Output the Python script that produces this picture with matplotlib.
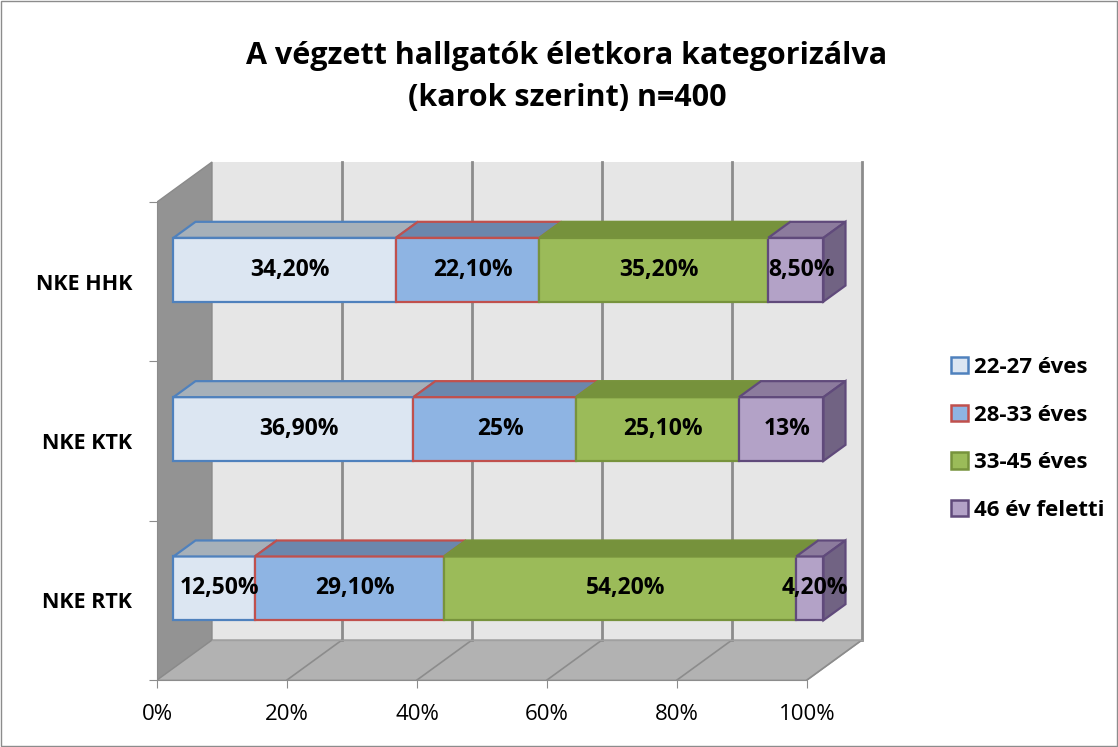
import matplotlib.pyplot as plt
import numpy as np
from matplotlib.patches import Polygon, Patch, Rectangle

plt.rcParams["font.family"] = ["Open Sans", "DejaVu Sans"]

title = "A végzett hallgatók életkora kategorizálva\n(karok szerint) n=400"
faculties = ["NKE RTK", "NKE KTK", "NKE HHK"]
age_groups = ["22-27 éves", "28-33 éves", "33-45 éves", "46 év feletti"]
values = np.array([
    [12.5, 29.1, 54.2, 4.2],
    [36.9, 25.0, 25.1, 13.0],
    [34.2, 22.1, 35.2, 8.5],
])
value_labels = [
    ["12,50%", "29,10%", "54,20%", "4,20%"],
    ["36,90%", "25%", "25,10%", "13%"],
    ["34,20%", "22,10%", "35,20%", "8,50%"],
]
x_ticks = [0, 20, 40, 60, 80, 100]

face_colors = ["#dce6f2", "#8eb4e3", "#9bbb59", "#b3a2c7"]
edge_colors = ["#4f81bd", "#c0504d", "#77933c", "#604a7b"]
top_colors = ["#a6b0b9", "#6b87ad", "#76923c", "#8c7b9d"]
side_colors = ["#a6b0b9", "#6b87ad", "#76923c", "#716383"]

# pseudo-3D geometry (data units)
DX, DY = 8.46, 0.251          # full depth offset of the walls
F0, F1 = 0.30, 0.70           # bar front/back depth fraction
BAR_H = 0.4

fig = plt.figure(figsize=(11.18, 7.47), dpi=100)
fig.patches.append(Rectangle((0.0008, 0.0008), 0.9984, 0.9984, transform=fig.transFigure,
                             fill=False, edgecolor="#8c8c8c", linewidth=1.0))
ax = fig.add_axes([157 / 1118, 1 - 680 / 747, 713 / 1118, 530 / 747])
ax.set_xlim(0, 713 / 6.5)
ax.set_ylim(-0.5, -0.5 + 530 / 159.33)

n = len(faculties)
y_lo, y_hi = -0.5, n - 0.5

# back wall
ax.add_patch(Polygon([(DX, y_lo + DY), (100 + DX, y_lo + DY), (100 + DX, y_hi + DY), (DX, y_hi + DY)],
                     closed=True, facecolor="#e6e6e6", edgecolor="none", zorder=1))
# floor
ax.add_patch(Polygon([(0, y_lo), (100, y_lo), (100 + DX, y_lo + DY), (DX, y_lo + DY)],
                     closed=True, facecolor="#b2b2b2", edgecolor="#a0a0a0", linewidth=1, zorder=1))
# side wall
ax.add_patch(Polygon([(0, y_lo), (DX, y_lo + DY), (DX, y_hi + DY), (0, y_hi)],
                     closed=True, facecolor="#939393", edgecolor="#8a8a8a", linewidth=1, zorder=1))
for xt in x_ticks[1:]:
    ax.plot([xt + DX, xt + DX], [y_lo + DY, y_hi + DY], color="#8c8c8c", linewidth=2, zorder=2)
    ax.plot([xt, xt + DX], [y_lo, y_lo + DY], color="#8c8c8c", linewidth=1.2, zorder=2)
ax.plot([DX, 100 + DX], [y_lo + DY, y_lo + DY], color="#a0a0a0", linewidth=1, zorder=2)

ddx, ddy = (F1 - F0) * DX, (F1 - F0) * DY
for i in range(n):
    yc = i + F0 * DY
    lefts = np.concatenate([[0], np.cumsum(values[i])[:-1]]) + F0 * DX
    ax.barh([yc] * len(age_groups), values[i], left=lefts, height=BAR_H,
            color=face_colors, edgecolor=edge_colors, linewidth=1.6, zorder=3)
    top = yc + BAR_H / 2
    bot = yc - BAR_H / 2
    for j, (l, w) in enumerate(zip(lefts, values[i])):
        ax.add_patch(Polygon([(l, top), (l + w, top), (l + w + ddx, top + ddy), (l + ddx, top + ddy)],
                             closed=True, facecolor=top_colors[j], edgecolor=edge_colors[j],
                             linewidth=1.6, zorder=3))
        ax.text(l + w / 2 + 0.25 * ddx, yc, value_labels[i][j], ha="center", va="center",
                fontsize=16.5, fontweight="bold", color="black", zorder=5)
    r = lefts[-1] + values[i][-1]
    ax.add_patch(Polygon([(r, bot), (r, top), (r + ddx, top + ddy), (r + ddx, bot + ddy)],
                         closed=True, facecolor=side_colors[-1], edgecolor=edge_colors[-1],
                         linewidth=1.6, zorder=3))

# axes styling
for s in ["top", "right"]:
    ax.spines[s].set_visible(False)
ax.spines["left"].set_bounds(y_lo, y_hi)
ax.spines["bottom"].set_bounds(0, 100)
ax.spines["left"].set_color("#8c8c8c")
ax.spines["bottom"].set_color("#8c8c8c")
ax.spines["left"].set_zorder(2.5)
ax.spines["bottom"].set_zorder(2.5)
ax.set_xticks(x_ticks)
ax.set_xticklabels([f"{t}%" for t in x_ticks], fontsize=16)
ax.set_yticks(np.arange(-0.5, n, 1.0))
ax.set_yticklabels([])
ax.set_yticks(np.arange(n), minor=True)
ax.set_yticklabels(faculties, minor=True, fontsize=15.5, fontweight="bold")
ax.tick_params(axis="y", which="minor", length=0, pad=18)
ax.tick_params(axis="both", which="major", length=6, color="#8c8c8c")
ax.tick_params(axis="x", pad=11)
ax.patch.set_visible(False)

fig.text(0.507, 1 - 77 / 747, title, ha="center", va="center", fontsize=22,
         fontweight="bold", linespacing=1.5)

handles = [Patch(facecolor=fc, edgecolor=ec, linewidth=1.8) for fc, ec in zip(face_colors, edge_colors)]
fig.legend(handles, age_groups, loc="center left", bbox_to_anchor=(931 / 1118, 1 - 439 / 747),
           frameon=False, prop={"size": 16, "weight": "bold"}, handlelength=0.75, handleheight=0.75,
           handletextpad=0.3, labelspacing=1.2)

fig.savefig("out.png", dpi=100)
